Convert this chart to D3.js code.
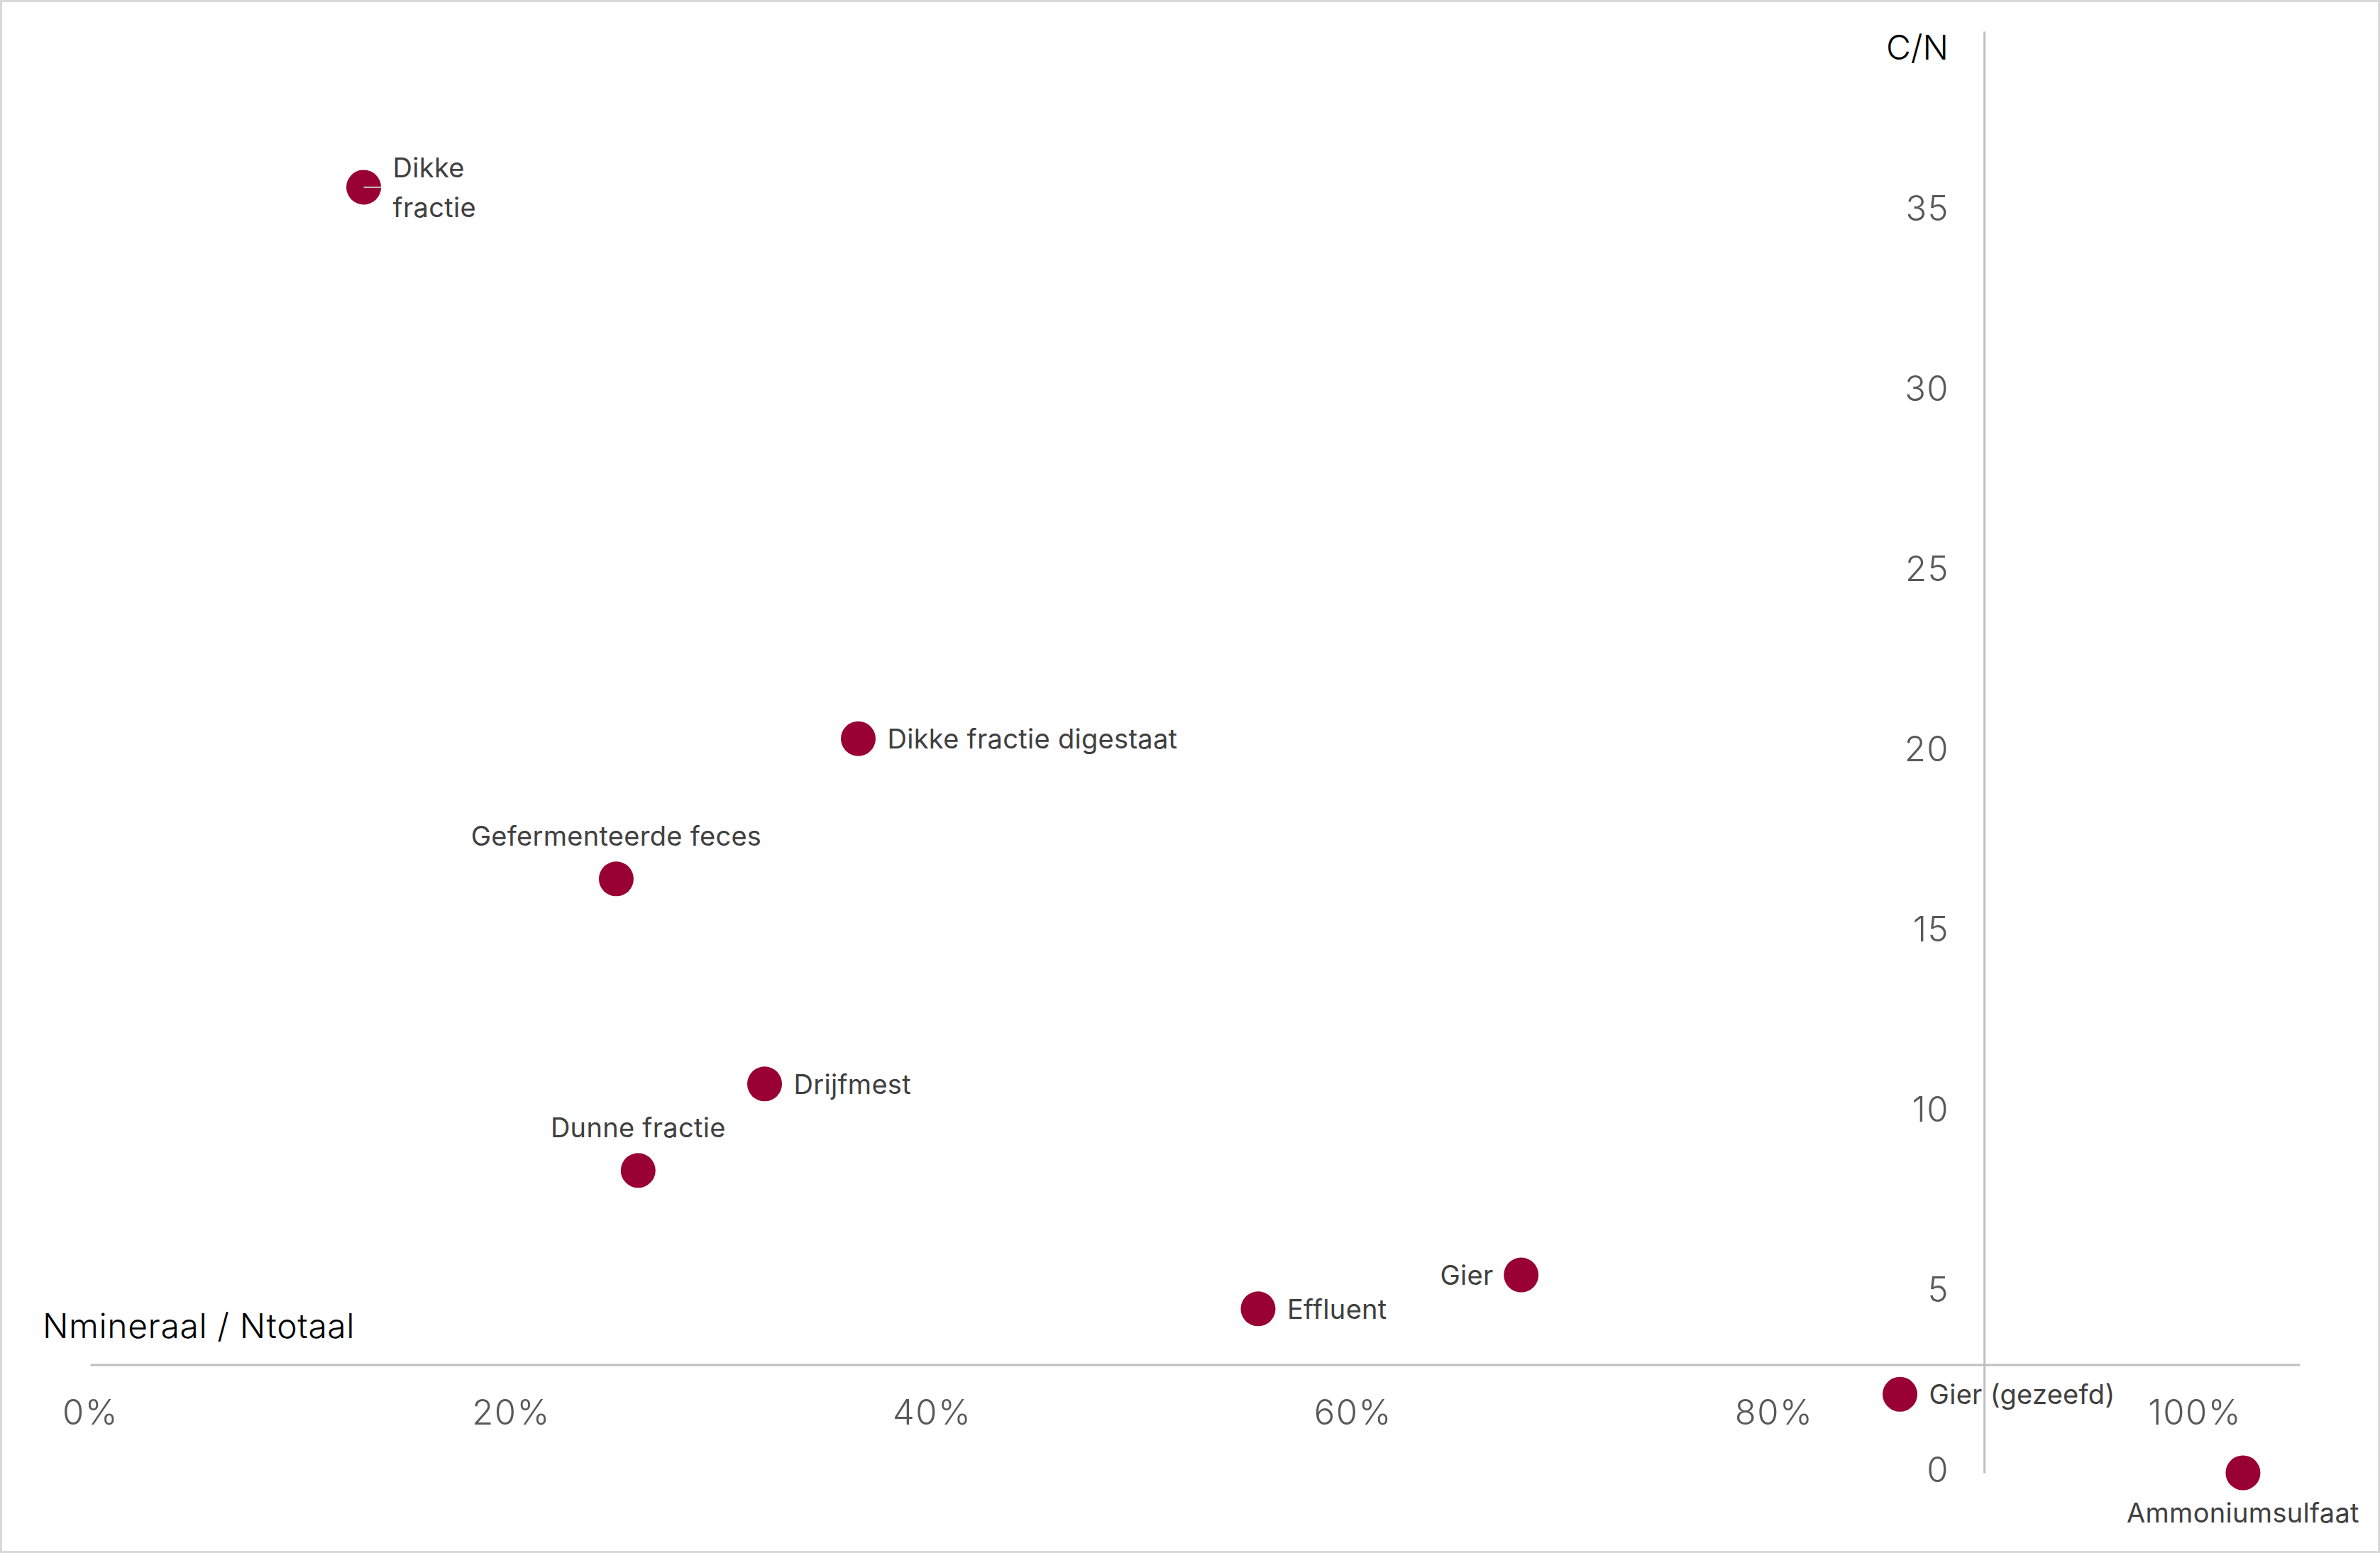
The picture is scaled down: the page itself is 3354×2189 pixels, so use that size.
<!DOCTYPE html>
<html>
<head>
<meta charset="utf-8">
<script src="https://cdn.jsdelivr.net/npm/d3@7"></script>
<style>
    html, body { margin: 0; padding: 0; background: #ffffff; }
    svg { display: block; font-family: Inter, Lato, sans-serif; }
</style>
</head>
<body>
<div id="scatter"></div>
<script>
'use strict';

// data
const products = [
    'Dikke fractie',
    'Dikke fractie digestaat',
    'Gefermenteerde feces',
    'Drijfmest',
    'Dunne fractie',
    'Effluent',
    'Gier',
    'Gier (gezeefd)',
    'Ammoniumsulfaat'
];
const nMineralShare = [0.130, 0.365, 0.250, 0.3205, 0.2604, 0.555, 0.680, 0.860, 1.023];
const cnRatio = [35.67, 20.37, 16.48, 10.79, 8.39, 4.55, 5.49, 2.18, 0.0];

const xTicks = [0, 0.2, 0.4, 0.6, 0.8, 1.0];
const yTicks = [0, 5, 10, 15, 20, 25, 30, 35];

// where each label sits relative to its dot
const labelSide = {
    'Dikke fractie': 'right-wrap',
    'Dikke fractie digestaat': 'right',
    'Gefermenteerde feces': 'above',
    'Drijfmest': 'right',
    'Dunne fractie': 'above',
    'Effluent': 'right',
    'Gier': 'left',
    'Gier (gezeefd)': 'right',
    'Ammoniumsulfaat': 'below'
};

const width = 3354;
const height = 2189;
const dotColour = '#990033';
const axisColour = '#bfbfbf';
const radius = 24.5;

const points = products.map(function (name, i) {
    return { name: name, x: nMineralShare[i], y: cnRatio[i] };
});

const svg = d3.select('#scatter')
    .append('svg')
    .attr('width', width)
    .attr('height', height);

// outer frame
svg.append('rect')
    .attr('x', 1.5)
    .attr('y', 1.5)
    .attr('width', width - 3)
    .attr('height', height - 3)
    .attr('fill', '#ffffff')
    .attr('stroke', '#d9d9d9')
    .attr('stroke-width', 3);

// scales
const xScale = d3.scaleLinear()
    .domain([0, 1.05])
    .range([127, 3241]);

const yScale = d3.scaleLinear()
    .domain([0, 40])
    .range([2076, 44]);

// axes cross: x axis at C/N = 3, y axis at 90 %
const xAxis = d3.axisBottom(xScale)
    .tickValues(xTicks)
    .tickFormat(d3.format('.0%'))
    .tickSize(0)
    .tickPadding(50);

const yAxis = d3.axisLeft(yScale)
    .tickValues(yTicks)
    .tickSize(0)
    .tickPadding(49);

const xAxisG = svg.append('g')
    .attr('transform', `translate(0,${yScale(3)})`)
    .call(xAxis);

const yAxisG = svg.append('g')
    .attr('transform', `translate(${xScale(0.9)},0)`)
    .call(yAxis);

[xAxisG, yAxisG].forEach(function (g) {
    g.select('.domain')
        .attr('stroke', axisColour)
        .attr('stroke-width', 3);
    g.selectAll('.tick text')
        .attr('font-family', 'Inter, Lato, sans-serif')
        .attr('font-weight', 300)
        .attr('font-size', 49)
        .attr('letter-spacing', 1.5)
        .attr('fill', '#595959');
});

yAxisG.selectAll('.tick text')
    .attr('dy', '0.25em');

// axis titles
svg.append('text')
    .attr('x', 60)
    .attr('y', 1886)
    .attr('font-size', 48)
    .attr('font-weight', 300)
    .attr('letter-spacing', 0.6)
    .attr('fill', '#000000')
    .text('Nmineraal / Ntotaal');

svg.append('text')
    .attr('x', 2746)
    .attr('y', 84)
    .attr('text-anchor', 'end')
    .attr('font-size', 48)
    .attr('font-weight', 300)
    .attr('fill', '#000000')
    .text('C/N');

// dots
svg.selectAll('circle.dot')
    .data(points, function (d) {
        return d.name;
    })
    .join('circle')
    .attr('class', 'dot')
    .attr('cx', function (d) {
        return xScale(d.x);
    })
    .attr('cy', function (d) {
        return yScale(d.y);
    })
    .attr('r', radius)
    .attr('fill', dotColour);

// small leader line on the wrapped label
const wrapped = points.filter(function (d) {
    return labelSide[d.name] === 'right-wrap';
});

svg.selectAll('line.leader')
    .data(wrapped)
    .join('line')
    .attr('class', 'leader')
    .attr('x1', function (d) {
        return xScale(d.x);
    })
    .attr('x2', function (d) {
        return xScale(d.x) + radius;
    })
    .attr('y1', function (d) {
        return yScale(d.y);
    })
    .attr('y2', function (d) {
        return yScale(d.y);
    })
    .attr('stroke', axisColour)
    .attr('stroke-width', 2);

// data labels
const labels = svg.selectAll('text.dot-label')
    .data(points, function (d) {
        return d.name;
    })
    .join('text')
    .attr('class', 'dot-label')
    .attr('font-size', 38)
    .attr('letter-spacing', 0.3)
    .attr('fill', '#404040')
    .attr('x', function (d) {
        const side = labelSide[d.name];
        const cx = xScale(d.x);
        if (side === 'right' || side === 'right-wrap') return cx + 41;
        if (side === 'left') return cx - 39;
        return cx;
    })
    .attr('y', function (d) {
        const side = labelSide[d.name];
        const cy = yScale(d.y);
        if (side === 'above') return cy - 60;
        if (side === 'below') return cy + 56;
        return cy;
    })
    .attr('dy', '0.36em')
    .attr('text-anchor', function (d) {
        const side = labelSide[d.name];
        if (side === 'left') return 'end';
        if (side === 'above' || side === 'below') return 'middle';
        return 'start';
    });

labels.each(function (d) {
    const el = d3.select(this);
    if (labelSide[d.name] === 'right-wrap') {
        const words = d.name.split(' ');
        const x = el.attr('x');
        el.attr('dy', null);
        words.forEach(function (w, i) {
            el.append('tspan')
                .attr('x', x)
                .attr('dy', i === 0 ? '-0.38em' : '1.48em')
                .text(w);
        });
    } else {
        el.text(d.name);
    }
});
</script>
</body>
</html>
